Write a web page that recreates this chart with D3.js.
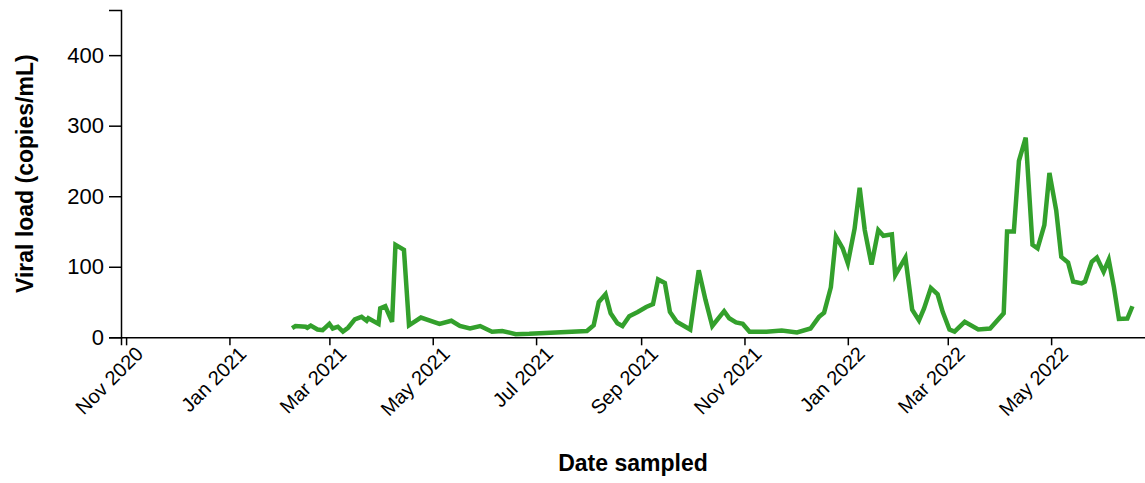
<!DOCTYPE html>
<html>
<head>
<meta charset="utf-8">
<script src="https://cdn.jsdelivr.net/npm/d3@7"></script>
<style>
  html, body { margin: 0; padding: 0; background: #fff; }
  svg { display: block; font-family: "Liberation Sans", Arial, sans-serif; }
  .axis text { fill: #000; }
  .y-axis text { font-size: 22px; }
  .x-axis text { font-size: 20px; }
  .axis path, .axis line { stroke: #000; stroke-width: 1.5; }
  .axis-title { font-size: 23px; font-weight: bold; fill: #000; }
</style>
</head>
<body>
<svg id="chart" width="1145" height="483"></svg>
<script>
// Sampling dates and measured viral load (copies/mL)
const sampleDates = [
  "2021-02-07","2021-02-09","2021-02-15","2021-02-16","2021-02-18","2021-02-22","2021-02-25",
  "2021-03-01","2021-03-03","2021-03-06","2021-03-09","2021-03-12","2021-03-16","2021-03-20",
  "2021-03-23","2021-03-24","2021-03-30","2021-03-31","2021-04-03","2021-04-07","2021-04-09",
  "2021-04-14","2021-04-17","2021-04-24","2021-05-05","2021-05-12","2021-05-17","2021-05-23",
  "2021-05-29","2021-06-05","2021-06-11","2021-06-19","2021-06-27","2021-07-31","2021-08-04",
  "2021-08-07","2021-08-11","2021-08-14","2021-08-18","2021-08-21","2021-08-25","2021-08-30",
  "2021-09-04","2021-09-08","2021-09-11","2021-09-15","2021-09-18","2021-09-22","2021-09-30",
  "2021-10-05","2021-10-09","2021-10-13","2021-10-20","2021-10-23","2021-10-27","2021-10-31",
  "2021-11-04","2021-11-14","2021-11-23","2021-12-02","2021-12-10","2021-12-15","2021-12-18",
  "2021-12-22","2021-12-25","2021-12-29","2022-01-01","2022-01-05","2022-01-08","2022-01-11",
  "2022-01-15","2022-01-19","2022-01-22","2022-01-27","2022-01-29","2022-02-04","2022-02-08",
  "2022-02-12","2022-02-15","2022-02-19","2022-02-23","2022-02-26","2022-03-02","2022-03-05",
  "2022-03-11","2022-03-19","2022-03-26","2022-04-03","2022-04-05","2022-04-09","2022-04-12",
  "2022-04-16","2022-04-20","2022-04-23","2022-04-27","2022-04-30","2022-05-04","2022-05-07",
  "2022-05-11","2022-05-14","2022-05-19","2022-05-21","2022-05-25","2022-05-28","2022-06-01",
  "2022-06-04","2022-06-07","2022-06-10","2022-06-15","2022-06-18"
];
const viralLoad = [
  13, 16, 15, 13.5, 16.5, 11, 10,
  19, 12.5, 15, 8, 13.5, 25.5, 29,
  23.5, 27, 19, 41, 44, 22, 131,
  124, 17, 28, 19, 23.5, 16, 12.5,
  16, 8, 9, 4.5, 5, 9, 17,
  50, 61, 34, 20, 16, 30, 36,
  43, 47, 82, 77, 36, 22, 11,
  95, 53, 16, 37, 27, 21, 19,
  8, 8, 9.5, 7, 12.5, 29, 35,
  71, 143, 126, 105, 154, 212, 152,
  103, 152, 144, 146, 88, 113, 39,
  24, 41, 70, 61, 36, 11, 8,
  22, 11, 12.5, 34, 150, 150, 250,
  283, 131, 126, 159, 233, 180, 114,
  106, 79, 76.5, 79, 107, 113, 93,
  110, 72, 26, 26.5, 44
];
const xDomain = ["2020-10-29", "2022-06-26"];
const yDomain = [0, 464];
const yTickValues = [0, 100, 200, 300, 400];
const xTitle = "Date sampled";
const yTitle = "Viral load (copies/mL)";
const lineColor = "#33a02c";

const parseDate = d3.utcParse("%Y-%m-%d");
const data = sampleDates.map((d, i) => ({ date: parseDate(d), value: viralLoad[i] }));

const svg = d3.select("#chart");
const margin = { top: 10, right: -1, bottom: 145.7, left: 121 };
const width = 1145, height = 483;

const x = d3.scaleUtc()
  .domain(xDomain.map(parseDate))
  .range([margin.left, width - margin.right]);
const y = d3.scaleLinear()
  .domain(yDomain)
  .range([height - margin.bottom, margin.top]);

// x axis with rotated month labels
const gx = svg.append("g")
  .attr("class", "axis x-axis")
  .attr("transform", `translate(0,${y(0)})`)
  .call(d3.axisBottom(x)
    .ticks(d3.utcMonth.every(2))
    .tickFormat(d3.utcFormat("%b %Y"))
    .tickSize(8)
    .tickPadding(3));
gx.selectAll("text")
  .attr("transform", "rotate(-45)")
  .style("text-anchor", "end");

// y axis
svg.append("g")
  .attr("class", "axis y-axis")
  .attr("transform", `translate(${margin.left},0)`)
  .call(d3.axisLeft(y)
    .tickValues(yTickValues)
    .tickSize(12)
    .tickPadding(5));

// viral load line
const line = d3.line()
  .x(d => x(d.date))
  .y(d => y(d.value));

svg.append("path")
  .datum(data)
  .attr("fill", "none")
  .attr("stroke", lineColor)
  .attr("stroke-width", 4.5)
  .attr("d", line);

// axis titles
svg.append("text")
  .attr("class", "axis-title")
  .attr("x", (margin.left + width) / 2)
  .attr("y", 471)
  .attr("text-anchor", "middle")
  .text(xTitle);

svg.append("text")
  .attr("class", "axis-title")
  .attr("transform", `translate(33,${(y(0) + margin.top) / 2}) rotate(-90)`)
  .attr("text-anchor", "middle")
  .text(yTitle);
</script>
</body>
</html>
